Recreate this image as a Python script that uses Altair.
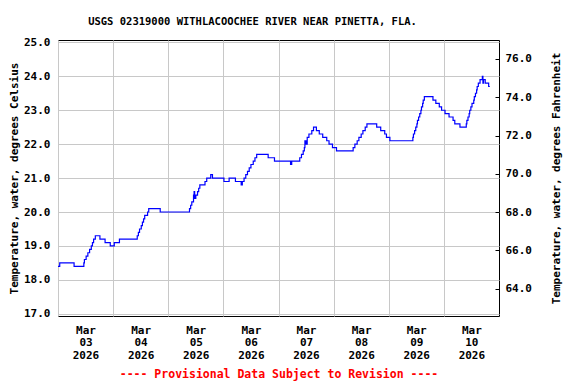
import altair as alt
import pandas as pd

# Hours since 2026-03-03 00:00 (step breakpoints) and water temperature (deg C)
hours = [0, 0.75, 7.0, 11.25, 11.5, 12.25, 13.0, 13.75, 14.5, 15.0, 15.5, 16.25,
         18.25, 20.5, 22.75, 24.5, 26.75,
         34.5, 35.0, 35.5, 36.25, 36.75, 37.25, 37.75, 39.0, 39.5, 44.5,
         57.25, 57.75, 58.25, 59.0, 59.25, 59.5, 60.0, 60.75, 61.25, 61.75,
         64.0, 64.75, 66.5, 67.25, 72.25, 74.5, 77.25, 79.75,
         80.25, 81.0, 81.75, 82.5, 83.25, 84.0, 85.0, 85.75, 86.5, 91.5, 94.25,
         101.25, 101.75, 105.25, 106.0, 106.75, 107.25, 107.5, 108.0, 108.5, 109.25, 110.5, 111.25,
         112.5, 113.75, 115.25, 117.0, 118.0, 119.5, 121.25,
         128.5, 129.25, 130.25, 131.0, 132.0, 132.75, 133.75, 134.5, 138.75, 140.5, 142.25, 143.0, 144.5,
         154.5, 154.75, 155.25, 155.75, 156.25, 156.5, 157.0, 157.5, 158.0, 158.25, 158.75, 159.0, 159.5,
         163.25, 164.5, 166.0, 167.0, 168.5, 170.25, 172.0, 172.75, 175.0,
         177.75, 178.0, 178.5, 179.0, 179.25, 179.75, 180.25, 181.0, 181.25, 181.75, 182.25, 182.5,
         183.0, 183.75, 184.75, 185.0, 185.25, 186.0, 187.5, 188.0]
temps_c = [18.4, 18.5, 18.4, 18.5, 18.6, 18.7, 18.8, 18.9, 19.0, 19.1, 19.2, 19.3,
           19.2, 19.1, 19.0, 19.1, 19.2,
           19.3, 19.4, 19.5, 19.6, 19.7, 19.8, 19.9, 20.0, 20.1, 20.0,
           20.1, 20.2, 20.3, 20.5, 20.6, 20.4, 20.5, 20.6, 20.7, 20.8,
           20.9, 21.0, 21.1, 21.0, 20.9, 21.0, 20.9, 20.8,
           20.9, 21.0, 21.1, 21.2, 21.3, 21.4, 21.5, 21.6, 21.7, 21.6, 21.5,
           21.4, 21.5, 21.6, 21.7, 21.8, 21.9, 22.1, 22.0, 22.2, 22.3, 22.4, 22.5,
           22.4, 22.3, 22.2, 22.1, 22.0, 21.9, 21.8,
           21.9, 22.0, 22.1, 22.2, 22.3, 22.4, 22.5, 22.6, 22.5, 22.4, 22.3, 22.2, 22.1,
           22.2, 22.3, 22.4, 22.5, 22.6, 22.7, 22.8, 22.9, 23.0, 23.1, 23.2, 23.3, 23.4,
           23.3, 23.2, 23.1, 23.0, 22.9, 22.8, 22.7, 22.6, 22.5,
           22.6, 22.7, 22.8, 22.9, 23.0, 23.1, 23.2, 23.3, 23.4, 23.5, 23.6, 23.7,
           23.8, 23.9, 24.0, 23.8, 23.9, 23.8, 23.7, 23.7]

c_ticks = [17, 18, 19, 20, 21, 22, 23, 24, 25]
f_ticks = [64, 66, 68, 70, 72, 74, 76]
day_ticks = [3, 4, 5, 6, 7, 8, 9, 10]

title_text = "USGS 02319000 WITHLACOOCHEE RIVER NEAR PINETTA, FLA."
footer_text = "---- Provisional Data Subject to Revision ----"

start = pd.Timestamp("2026-03-03 00:00:00")
df = pd.DataFrame({
    "time": [start + pd.Timedelta(hours=h) for h in hours],
    "temp_c": temps_c,
})

FONT = "DejaVu Sans Mono"

x_scale = alt.Scale(domain=[alt.DateTime(year=2026, month=3, date=3),
                            alt.DateTime(year=2026, month=3, date=11)])

x_axis = alt.Axis(
    values=[alt.DateTime(year=2026, month=3, date=d) for d in day_ticks],
    grid=True, gridColor="#c8c8c8", ticks=False, domain=False,
    labelExpr="[timeFormat(datum.value, '%b'), timeFormat(datum.value, '%d'), timeFormat(datum.value, '%Y')]",
    labelOffset=27.5, labelAlign="center", labelBaseline="top", labelLineHeight=12.8,
    labelPadding=8, labelFont=FONT, labelFontSize=11, labelFontWeight="bold", labelColor="black",
    labelOverlap=False, labelFlush=False, labelBound=False,
    title=footer_text, titleColor="#ff0000", titleFont=FONT, titleFontSize=11.5,
    titleFontWeight="bold", titlePadding=8,
)

line = alt.Chart(df).mark_line(interpolate="step-after", color="#0000ff", strokeWidth=1.2).encode(
    x=alt.X("time:T", scale=x_scale, axis=x_axis),
    y=alt.Y("temp_c:Q",
            scale=alt.Scale(domain=[16.935, 25.07], nice=False, zero=False),
            axis=alt.Axis(values=c_ticks, format=".1f", grid=True, gridColor="#c8c8c8",
                          ticks=False, domain=False, labelPadding=8, labelFont=FONT,
                          labelFontSize=11, labelFontWeight="bold", labelColor="black",
                          title="Temperature, water, degrees Celsius", titleFont=FONT,
                          titleFontSize=11, titleFontWeight="bold", titleColor="black",
                          titlePadding=4)),
)

fahr = alt.Chart(df).transform_calculate(temp_f="datum.temp_c * 1.8 + 32").mark_line(opacity=0).encode(
    x=alt.X("time:T", scale=x_scale, axis=x_axis),
    y=alt.Y("temp_f:Q",
            scale=alt.Scale(domain=[62.58, 76.99], nice=False, zero=False),
            axis=alt.Axis(orient="right", values=f_ticks, format=".1f", grid=False,
                          ticks=True, tickSize=4, tickColor="black", offset=-4, domain=False,
                          labelPadding=6, labelFont=FONT, labelFontSize=11,
                          labelFontWeight="bold", labelColor="black",
                          title="Temperature, water, degrees Fahrenheit", titleFont=FONT,
                          titleFontSize=11, titleFontWeight="bold", titleColor="black",
                          titleAngle=-90, titlePadding=30)),
)

chart = alt.layer(line, fahr).resolve_scale(y="independent").properties(
    width=441, height=276,
    title=alt.TitleParams(text=title_text, font=FONT, fontSize=10.5, fontWeight="bold",
                          color="black", anchor="middle", dx=-26, dy=15, offset=16,
                          baseline="alphabetic"),
    autosize=alt.AutoSizeParams(type="none"),
    padding={"left": 50, "top": 32, "right": 69, "bottom": 68},
    background="white",
).configure_view(stroke="black", strokeWidth=1)

chart.save("out.html", embed_options={"renderer": "svg", "actions": False})
